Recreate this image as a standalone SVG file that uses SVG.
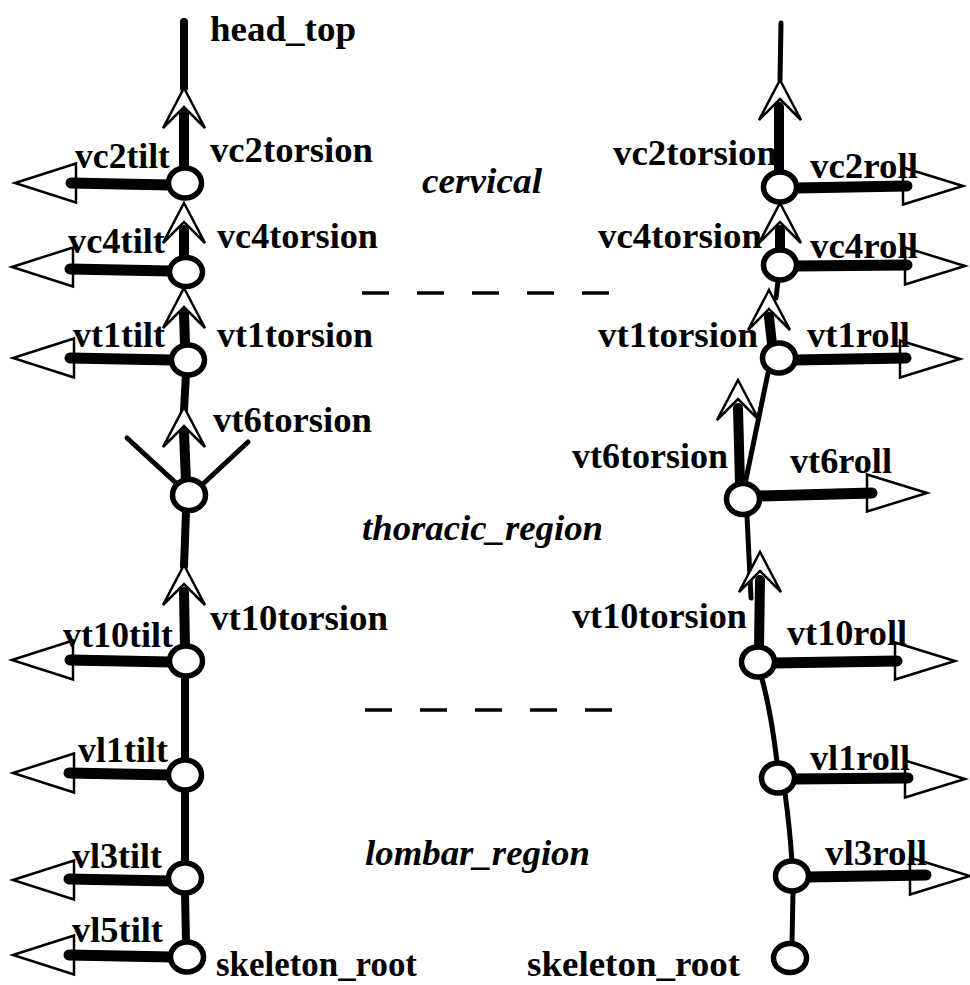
<svg xmlns="http://www.w3.org/2000/svg" width="970" height="985" viewBox="0 0 970 985">
<style>
  text{font-family:"Liberation Serif","Times New Roman",serif;font-weight:bold;font-size:36px;fill:#000}
  .it{font-style:italic}
  .sp{stroke:#000;fill:none;stroke-linecap:round}
  .w5{stroke-width:5}
  .w8{stroke-width:8}
  .w10{stroke-width:10}
  .w11{stroke-width:11}
  .ah{fill:#fff;stroke:#000;stroke-width:2.5;stroke-linejoin:miter}
  .jt{fill:#fff;stroke:#000;stroke-width:5.5}
  .dash{stroke:#000;stroke-width:3.5;stroke-dasharray:27 28;fill:none}
</style>
<defs>
  <path id="tor" d="M0,0 L21,40 L0,19 L-21,40 Z"/>
  <path id="tilt" d="M0,0 L61,-19.5 L61,19.5 Z"/>
  <path id="roll" d="M0,0 L-60,-18.5 L-60,18.5 Z"/>
</defs>
<rect width="970" height="985" fill="#fff"/>

<g id="connectors">
  <line class="sp w8" x1="184" y1="22" x2="184" y2="88"/>
  <line class="sp w8" x1="186" y1="374" x2="184" y2="410"/>
  <line class="sp w8" x1="186" y1="512" x2="184" y2="566"/>
  <line class="sp w8" x1="185" y1="676" x2="185" y2="760"/>
  <line class="sp w8" x1="185" y1="790" x2="185" y2="863"/>
  <line class="sp w8" x1="185" y1="893" x2="186" y2="942"/>
  <line class="sp w5" x1="127" y1="438" x2="176" y2="483"/>
  <line class="sp w5" x1="248" y1="442" x2="204" y2="483"/>
  <use href="#tor" class="ah" x="184" y="88"/>
  <use href="#tor" class="ah" x="184" y="203"/>
  <use href="#tor" class="ah" x="184" y="288"/>
  <use href="#tor" class="ah" x="184" y="407"/>
  <use href="#tor" class="ah" x="184" y="565"/>
  <line class="sp w10" x1="184" y1="113" x2="184" y2="170"/>
  <line class="sp w10" x1="184" y1="230" x2="184" y2="258"/>
  <line class="sp w10" x1="184" y1="313" x2="185" y2="345"/>
  <line class="sp w10" x1="184" y1="432" x2="186" y2="482"/>
  <line class="sp w10" x1="184" y1="592" x2="185" y2="648"/>
  <use href="#tilt" class="ah" x="15" y="183"/>
  <use href="#tilt" class="ah" x="12" y="267"/>
  <use href="#tilt" class="ah" x="13" y="358"/>
  <use href="#tilt" class="ah" x="12" y="660"/>
  <use href="#tilt" class="ah" x="13" y="773"/>
  <use href="#tilt" class="ah" x="13" y="880"/>
  <use href="#tilt" class="ah" x="13" y="955"/>
  <line class="sp w11" x1="170" y1="185" x2="71" y2="183"/>
  <line class="sp w11" x1="170" y1="271" x2="70" y2="269"/>
  <line class="sp w11" x1="172" y1="360" x2="70" y2="358"/>
  <line class="sp w11" x1="170" y1="662" x2="70" y2="660"/>
  <line class="sp w11" x1="170" y1="775" x2="69" y2="773"/>
  <line class="sp w11" x1="170" y1="881" x2="69" y2="879"/>
  <line class="sp w11" x1="172" y1="957" x2="69" y2="955"/>

  <line class="sp w5" x1="781" y1="23" x2="780" y2="80"/>
  <line class="sp w5" x1="778" y1="281" x2="776" y2="298"/>
  <line class="sp w5" x1="747" y1="516" x2="751" y2="598"/>
  <line class="sp w5" x1="793" y1="893" x2="792" y2="942"/>
  <use href="#tor" class="ah" x="780" y="80"/>
  <use href="#tor" class="ah" x="780" y="203"/>
  <use href="#tor" class="ah" x="769" y="290"/>
  <use href="#tor" class="ah" x="738" y="380"/>
  <use href="#tor" class="ah" x="760" y="552"/>
  <line class="sp w10" x1="779" y1="107" x2="779" y2="172"/>
  <line class="sp w10" x1="780" y1="230" x2="780" y2="250"/>
  <line class="sp w10" x1="769" y1="317" x2="772" y2="344"/>
  <line class="sp w10" x1="738" y1="408" x2="740" y2="484"/>
  <line class="sp w10" x1="760" y1="580" x2="759" y2="648"/>
  <path class="sp w5" d="M768,373 Q757,425 745,484"/>
  <path class="sp w5" d="M762,679 Q771,712 777,762"/>
  <path class="sp w5" d="M785,793 Q790,830 792,862"/>
  <use href="#roll" class="ah" x="963" y="186"/>
  <use href="#roll" class="ah" x="965" y="266"/>
  <use href="#roll" class="ah" x="960" y="359"/>
  <use href="#roll" class="ah" x="927" y="493"/>
  <use href="#roll" class="ah" x="955" y="661"/>
  <use href="#roll" class="ah" x="965" y="779"/>
  <use href="#roll" class="ah" x="970" y="876"/>
  <line class="sp w11" x1="796" y1="188" x2="907" y2="186"/>
  <line class="sp w11" x1="796" y1="266" x2="907" y2="265"/>
  <line class="sp w11" x1="795" y1="360" x2="906" y2="358"/>
  <line class="sp w11" x1="759" y1="496" x2="872" y2="493"/>
  <line class="sp w11" x1="774" y1="663" x2="897" y2="661"/>
  <line class="sp w11" x1="794" y1="779" x2="908" y2="778"/>
  <line class="sp w11" x1="808" y1="877" x2="926" y2="875"/>

  <line class="dash" x1="362" y1="293" x2="612" y2="293"/>
  <line class="dash" x1="365" y1="710" x2="615" y2="710"/>
</g>

<g id="head_top_L"><text x="210" y="41" textLength="146" lengthAdjust="spacingAndGlyphs">head_top</text></g>
<g id="vc2_L">
  <ellipse class="jt" cx="185" cy="183" rx="16.5" ry="15"/>
  <text x="210" y="162" textLength="163" lengthAdjust="spacingAndGlyphs">vc2torsion</text>
  <text x="75" y="168" textLength="95" lengthAdjust="spacingAndGlyphs">vc2tilt</text>
</g>
<g id="vc4_L">
  <ellipse class="jt" cx="186" cy="272" rx="16.5" ry="14.5"/>
  <text x="217" y="248" textLength="161" lengthAdjust="spacingAndGlyphs">vc4torsion</text>
  <text x="68" y="253" textLength="97" lengthAdjust="spacingAndGlyphs">vc4tilt</text>
</g>
<g id="vt1_L">
  <ellipse class="jt" cx="188" cy="360" rx="16.5" ry="15"/>
  <text x="217" y="347" textLength="156" lengthAdjust="spacingAndGlyphs">vt1torsion</text>
  <text x="73" y="347" textLength="92" lengthAdjust="spacingAndGlyphs">vt1tilt</text>
</g>
<g id="vt6_L">
  <ellipse class="jt" cx="189" cy="495" rx="16.5" ry="15.5"/>
  <text x="213" y="432" textLength="159" lengthAdjust="spacingAndGlyphs">vt6torsion</text>
</g>
<g id="vt10_L">
  <ellipse class="jt" cx="186" cy="661" rx="16.5" ry="15"/>
  <text x="210" y="630" textLength="178" lengthAdjust="spacingAndGlyphs">vt10torsion</text>
  <text x="63" y="647" textLength="110" lengthAdjust="spacingAndGlyphs">vt10tilt</text>
</g>
<g id="vl1_L">
  <ellipse class="jt" cx="185" cy="775" rx="16.5" ry="15"/>
  <text x="78" y="762" textLength="90" lengthAdjust="spacingAndGlyphs">vl1tilt</text>
</g>
<g id="vl3_L">
  <ellipse class="jt" cx="185" cy="878" rx="16.5" ry="15"/>
  <text x="72" y="868" textLength="90" lengthAdjust="spacingAndGlyphs">vl3tilt</text>
</g>
<g id="vl5_L">
  <ellipse class="jt" cx="187" cy="957" rx="16.5" ry="15"/>
  <text x="72" y="942" textLength="91" lengthAdjust="spacingAndGlyphs">vl5tilt</text>
  <text x="216" y="976" textLength="201" lengthAdjust="spacingAndGlyphs">skeleton_root</text>
</g>

<g id="regions">
  <text class="it" x="422" y="193" textLength="120" lengthAdjust="spacingAndGlyphs">cervical</text>
  <text class="it" x="362" y="540" textLength="241" lengthAdjust="spacingAndGlyphs">thoracic_region</text>
  <text class="it" x="365" y="865" textLength="225" lengthAdjust="spacingAndGlyphs">lombar_region</text>
</g>

<g id="vc2_R">
  <ellipse class="jt" cx="780" cy="187" rx="16.5" ry="15"/>
  <text x="613" y="165" textLength="164" lengthAdjust="spacingAndGlyphs">vc2torsion</text>
  <text x="810" y="178" textLength="108" lengthAdjust="spacingAndGlyphs">vc2roll</text>
</g>
<g id="vc4_R">
  <ellipse class="jt" cx="780" cy="265" rx="16.5" ry="15"/>
  <text x="598" y="248" textLength="164" lengthAdjust="spacingAndGlyphs">vc4torsion</text>
  <text x="810" y="258" textLength="108" lengthAdjust="spacingAndGlyphs">vc4roll</text>
</g>
<g id="vt1_R">
  <ellipse class="jt" cx="779" cy="358" rx="16.5" ry="15"/>
  <text x="598" y="347" textLength="160" lengthAdjust="spacingAndGlyphs">vt1torsion</text>
  <text x="807" y="347" textLength="103" lengthAdjust="spacingAndGlyphs">vt1roll</text>
</g>
<g id="vt6_R">
  <ellipse class="jt" cx="743" cy="499" rx="16.5" ry="15.5"/>
  <text x="572" y="468" textLength="156" lengthAdjust="spacingAndGlyphs">vt6torsion</text>
  <text x="790" y="473" textLength="102" lengthAdjust="spacingAndGlyphs">vt6roll</text>
</g>
<g id="vt10_R">
  <ellipse class="jt" cx="758" cy="662" rx="16.5" ry="15"/>
  <text x="572" y="628" textLength="175" lengthAdjust="spacingAndGlyphs">vt10torsion</text>
  <text x="787" y="645" textLength="120" lengthAdjust="spacingAndGlyphs">vt10roll</text>
</g>
<g id="vl1_R">
  <ellipse class="jt" cx="778" cy="778" rx="16.5" ry="15"/>
  <text x="810" y="770" textLength="100" lengthAdjust="spacingAndGlyphs">vl1roll</text>
</g>
<g id="vl3_R">
  <ellipse class="jt" cx="792" cy="876" rx="16.5" ry="15"/>
  <text x="825" y="865" textLength="102" lengthAdjust="spacingAndGlyphs">vl3roll</text>
</g>
<g id="root_R">
  <ellipse class="jt" cx="790" cy="958" rx="16.5" ry="14.5"/>
  <text x="527" y="976" textLength="213" lengthAdjust="spacingAndGlyphs">skeleton_root</text>
</g>
</svg>
